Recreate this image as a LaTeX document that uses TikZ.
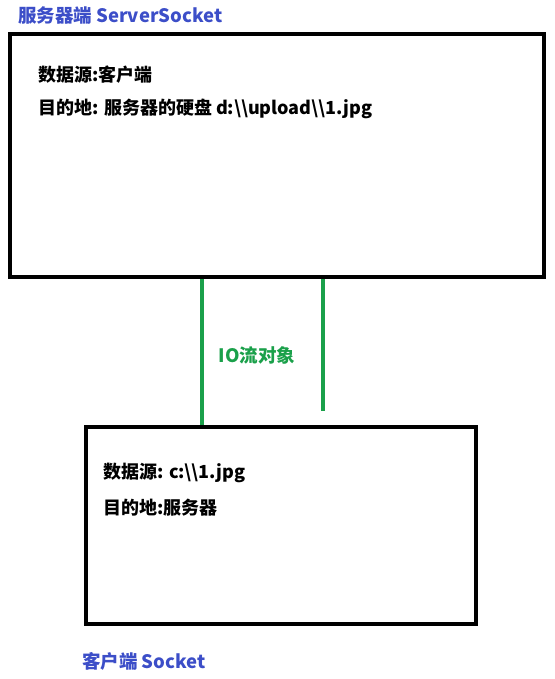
\documentclass[tikz,border=0pt]{standalone}
\usepackage{fontspec}
\setmainfont{Noto Sans CJK SC}
\usetikzlibrary{positioning}
\definecolor{iogreen}{RGB}{26,160,74}
\definecolor{sideblue}{RGB}{60,78,200}
\tikzset{
  endbox/.style={draw=black, line width=4pt, rectangle, inner sep=0pt},
  boxtext/.style={anchor=west, inner sep=0pt, font=\fontsize{18}{21}\selectfont\bfseries},
  sidelabel/.style={anchor=west, inner sep=0pt, text=sideblue, font=\fontsize{18.5}{21}\selectfont\bfseries},
  ioline/.style={iogreen, line width=3.5pt}
}
\begin{document}
\begin{tikzpicture}[x=1pt, y=-1pt]
\useasboundingbox (0,0) rectangle (554,679);
\node[endbox, minimum width=534pt, minimum height=243pt] (server) at (277,155.5) {};
\node[endbox, minimum width=390pt, minimum height=197pt] (client) at (281,525.5) {};
\node[sidelabel] (serverlabel) at (18,15) {服务器端 ServerSocket};
\node[sidelabel] (clientlabel) at (82,661) {客户端 Socket};
\node[boxtext] (serversrc) at (38,75) {数据源:客户端};
\node[boxtext] (serverdst) at (38,109) {目的地: 服务器的硬盘 d:\textbackslash\textbackslash upload\textbackslash\textbackslash 1.jpg};
\node[boxtext] (clientsrc) at (103,473) {数据源: c:\textbackslash\textbackslash 1.jpg};
\node[boxtext] (clientdst) at (103,508) {目的地:服务器};
\coordinate (ioend) at (323,411);
\draw[ioline] (server.south -| 202,0) -- (client.north -| 202,0);
\draw[ioline] (server.south -| ioend) -- (ioend);
\node[text=iogreen, font=\fontsize{18.5}{21}\selectfont\bfseries] (iolabel) at (257,355) {IO流对象};
\end{tikzpicture}
\end{document}
